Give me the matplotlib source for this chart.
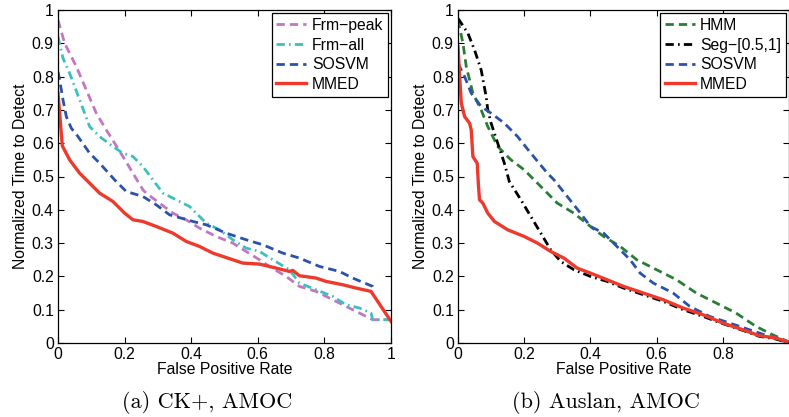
import numpy as np
import matplotlib.pyplot as plt

# (a) CK+, AMOC
ck_frm_peak_x = [0, 0.02, 0.055, 0.085, 0.115, 0.145, 0.17, 0.195, 0.225, 0.255, 0.265, 0.305, 0.345,
                 0.385, 0.425, 0.475, 0.525, 0.565, 0.605, 0.635, 0.685, 0.725, 0.775, 0.825, 0.885, 0.945, 1.0]
ck_frm_peak_y = [0.97, 0.9, 0.83, 0.76, 0.69, 0.64, 0.6, 0.56, 0.51, 0.46, 0.45, 0.42, 0.39,
                 0.37, 0.345, 0.32, 0.3, 0.275, 0.25, 0.23, 0.2, 0.17, 0.155, 0.13, 0.1, 0.07, 0.07]

ck_frm_all_x = [0, 0.015, 0.035, 0.065, 0.095, 0.125, 0.165, 0.195, 0.225, 0.255, 0.285, 0.315, 0.355,
                0.395, 0.425, 0.445, 0.485, 0.525, 0.565, 0.605, 0.645, 0.695, 0.725, 0.775, 0.825, 0.865,
                0.905, 0.94, 0.945, 1.0]
ck_frm_all_y = [0.92, 0.855, 0.81, 0.73, 0.65, 0.62, 0.59, 0.57, 0.56, 0.53, 0.49, 0.45, 0.43,
                0.41, 0.38, 0.36, 0.34, 0.31, 0.285, 0.275, 0.25, 0.22, 0.18, 0.16, 0.14, 0.115,
                0.105, 0.09, 0.07, 0.07]

ck_sosvm_x = [0, 0.005, 0.015, 0.025, 0.04, 0.06, 0.095, 0.125, 0.17, 0.205, 0.255, 0.295, 0.335, 0.37,
              0.405, 0.445, 0.505, 0.565, 0.615, 0.675, 0.725, 0.785, 0.845, 0.885, 0.945, 0.95]
ck_sosvm_y = [0.815, 0.79, 0.73, 0.68, 0.645, 0.62, 0.57, 0.54, 0.49, 0.455, 0.44, 0.415, 0.385, 0.375,
              0.365, 0.355, 0.33, 0.31, 0.295, 0.27, 0.255, 0.23, 0.215, 0.195, 0.17, 0.16]

ck_mmed_x = [0, 0.013, 0.035, 0.065, 0.09, 0.125, 0.165, 0.2, 0.225, 0.255, 0.295, 0.345, 0.385, 0.425,
             0.465, 0.525, 0.555, 0.605, 0.655, 0.695, 0.705, 0.725, 0.775, 0.805, 0.855, 0.895, 0.94, 1.0]
ck_mmed_y = [0.75, 0.592, 0.55, 0.51, 0.485, 0.45, 0.425, 0.39, 0.37, 0.365, 0.35, 0.33, 0.305, 0.29,
             0.27, 0.25, 0.24, 0.237, 0.225, 0.215, 0.218, 0.202, 0.195, 0.185, 0.175, 0.165, 0.155, 0.065]

# (b) Auslan, AMOC
au_hmm_x = [0, 0.015, 0.025, 0.045, 0.07, 0.09, 0.12, 0.16, 0.2, 0.24, 0.3, 0.35, 0.4, 0.44, 0.49,
            0.54, 0.6, 0.66, 0.72, 0.78, 0.84, 0.9, 0.95, 1.0]
au_hmm_y = [0.97, 0.9, 0.83, 0.75, 0.7, 0.65, 0.59, 0.55, 0.52, 0.48, 0.42, 0.39, 0.35, 0.32, 0.29,
            0.25, 0.22, 0.19, 0.15, 0.12, 0.09, 0.05, 0.025, 0.003]

au_seg_x = [0, 0.03, 0.05, 0.07, 0.085, 0.09, 0.1, 0.12, 0.14, 0.155, 0.19, 0.22, 0.25, 0.28, 0.31,
            0.35, 0.4, 0.45, 0.5, 0.56, 0.62, 0.68, 0.74, 0.8, 0.86, 0.91, 0.96, 1.0]
au_seg_y = [0.975, 0.93, 0.88, 0.82, 0.74, 0.7, 0.66, 0.6, 0.54, 0.485, 0.43, 0.38, 0.33, 0.28, 0.245,
            0.22, 0.2, 0.185, 0.165, 0.145, 0.125, 0.1, 0.08, 0.058, 0.038, 0.02, 0.012, 0.0]

au_sosvm_x = [0, 0.02, 0.04, 0.07, 0.1, 0.14, 0.18, 0.22, 0.27, 0.29, 0.33, 0.37, 0.4, 0.44, 0.48,
              0.52, 0.55, 0.59, 0.65, 0.7, 0.76, 0.82, 0.88, 0.94, 1.0]
au_sosvm_y = [0.84, 0.8, 0.75, 0.71, 0.69, 0.66, 0.62, 0.57, 0.51, 0.49, 0.44, 0.39, 0.35, 0.33, 0.29,
              0.25, 0.21, 0.18, 0.15, 0.11, 0.08, 0.06, 0.04, 0.02, 0.0]

au_mmed_x = [0, 0.005, 0.01, 0.02, 0.035, 0.04, 0.045, 0.058, 0.062, 0.065, 0.075, 0.09, 0.11, 0.15,
             0.2, 0.24, 0.28, 0.32, 0.36, 0.4, 0.45, 0.5, 0.56, 0.62, 0.68, 0.74, 0.8, 0.86, 0.91, 0.96, 1.0]
au_mmed_y = [0.89, 0.8, 0.72, 0.68, 0.66, 0.64, 0.56, 0.54, 0.47, 0.43, 0.42, 0.39, 0.365, 0.34,
             0.32, 0.3, 0.275, 0.255, 0.225, 0.21, 0.19, 0.17, 0.15, 0.13, 0.105, 0.085, 0.06, 0.04, 0.022, 0.015, 0.003]

plt.rcParams['font.family'] = ['Liberation Sans', 'DejaVu Sans']
plt.rcParams['font.size'] = 11.3

fig = plt.figure(figsize=(7.89, 4.17), dpi=100)
ax1 = fig.add_axes([58 / 789, 1 - 343 / 417, 333 / 789, 333 / 417])
ax2 = fig.add_axes([458 / 789, 1 - 343 / 417, 331 / 789, 333 / 417])

red = '#ee3a2c'
blue = '#2b52aa'
lw = 2.0
dash = (0, (3, 1.8))
dashdot = (0, (3, 1.5, 0.6, 1.5))

ax1.plot(ck_frm_peak_x, ck_frm_peak_y, ls=dash, color='#c276c4', lw=lw, label='Frm\u2212peak')
ax1.plot(ck_frm_all_x, ck_frm_all_y, ls=dashdot, color='#3dbfbf', lw=lw, label='Frm\u2212all')
ax1.plot(ck_sosvm_x, ck_sosvm_y, ls=dash, color=blue, lw=lw, label='SOSVM')
ax1.plot(ck_mmed_x, ck_mmed_y, ls='-', color=red, lw=2.4, label='MMED')

ax2.plot(au_hmm_x, au_hmm_y, ls=dash, color='#2a7d34', lw=lw, label='HMM')
ax2.plot(au_seg_x, au_seg_y, ls=dashdot, color='black', lw=lw, label='Seg\u2212[0.5,1]')
ax2.plot(au_sosvm_x, au_sosvm_y, ls=dash, color=blue, lw=lw, label='SOSVM')
ax2.plot(au_mmed_x, au_mmed_y, ls='-', color=red, lw=2.4, label='MMED')

for ax in (ax1, ax2):
    ax.set_xlim(0, 1)
    ax.set_ylim(0, 1)
    ax.set_yticks(np.arange(0, 1.01, 0.1))
    ax.set_yticklabels(['0', '0.1', '0.2', '0.3', '0.4', '0.5', '0.6', '0.7', '0.8', '0.9', '1'])
    ax.tick_params(direction='in', top=True, right=True, length=4, width=0.8, pad=3)
    ax.set_xlabel('False Positive Rate', labelpad=0)
    ax.set_ylabel('Normalized Time to Detect', labelpad=3)
    for s in ax.spines.values():
        s.set_linewidth(0.9)
    leg = ax.legend(loc='upper right', fancybox=False, edgecolor='black', framealpha=1,
                    handlelength=1.9, borderpad=0.3, labelspacing=0.3, handletextpad=0.35,
                    borderaxespad=0.2)
    leg.get_frame().set_linewidth(0.9)

ax1.set_xticks([0, 0.2, 0.4, 0.6, 0.8, 1.0])
ax1.set_xticklabels(['0', '0.2', '0.4', '0.6', '0.8', '1'])
ax2.set_xticks([0, 0.2, 0.4, 0.6, 0.8])
ax2.set_xticklabels(['0', '0.2', '0.4', '0.6', '0.8'])

fig.text(207 / 789, 1 - 408 / 417, '(a) CK+, AMOC', ha='center', va='baseline',
         family=['cmr10', 'DejaVu Serif'], fontsize=16)
fig.text(606 / 789, 1 - 408 / 417, '(b) Auslan, AMOC', ha='center', va='baseline',
         family=['cmr10', 'DejaVu Serif'], fontsize=16)

fig.savefig('out.png', dpi=100)
